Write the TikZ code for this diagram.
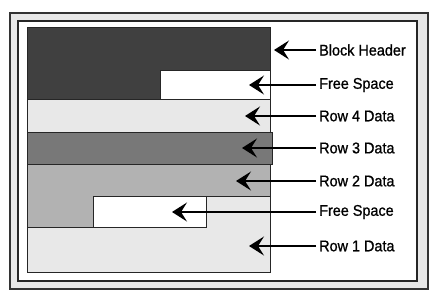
\documentclass[tikz,border=0pt]{standalone}
\usepackage{fontspec}
\setmainfont{Liberation Sans}
\newfontfamily\etfont[FakeBold=0.9,FakeStretch=0.93]{Liberation Sans}
\usetikzlibrary{arrows.meta}
\definecolor{cornice}{gray}{0.91}
\definecolor{testa}{gray}{0.25}
\definecolor{chiaro}{gray}{0.91}
\definecolor{scuro}{gray}{0.47}
\definecolor{medio}{gray}{0.70}
\tikzset{
  zona/.style  = {draw=black!85, line width=0.9pt},
  libero/.style = {zona, fill=white},
  freccia/.style = {line width=1.3pt, -{Stealth[length=15pt,width=19pt,inset=6pt]}},
  et/.style    = {anchor=west, inner sep=3pt, font=\etfont\fontsize{15.5}{17}\selectfont}
}

\begin{document}
\begin{tikzpicture}[x=1pt,y=-1pt]
  \useasboundingbox (0,0) rectangle (435,300);
  % cornice
  \draw[fill=cornice, line width=1.2pt, draw=black!80] (10,13) rectangle (428,289);
  \draw[fill=white, line width=1.5pt, draw=black!85] (18,21) rectangle (417,281);
  % blocco
  \draw[zona, fill=testa] (27,27) rectangle (270,99);
  \draw[libero] (160,70) rectangle (270,99);
  \draw[zona, fill=chiaro] (27,99) rectangle (270,132);
  \draw[zona, fill=scuro] (27,132) rectangle (272,164);
  \draw[zona, fill=medio] (27,164) rectangle (270,227);
  \draw[zona, fill=chiaro] (206,196) -- (270,196) -- (270,272) -- (27,272) -- (27,227) -- (206,227) -- cycle;
  \draw[libero] (93,196) rectangle (206,227);
  % punte
  \coordinate (ph) at (274,50);  \coordinate (pf1) at (249,85);
  \coordinate (p4) at (245,116); \coordinate (p3) at (242,148);
  \coordinate (p2) at (236,181); \coordinate (pf2) at (172,212);
  \coordinate (p1) at (249,246);
  % etichette
  \node[et] (h)  at (316,50)  {Block Header}; \draw[freccia] (h.west)--(ph);
  \node[et] (f1) at (316,85)  {Free Space};   \draw[freccia] (f1.west)--(pf1);
  \node[et] (r4) at (316,116) {Row 4 Data};   \draw[freccia] (r4.west)--(p4);
  \node[et] (r3) at (316,148) {Row 3 Data};   \draw[freccia] (r3.west)--(p3);
  \node[et] (r2) at (316,181) {Row 2 Data};   \draw[freccia] (r2.west)--(p2);
  \node[et] (f2) at (316,212) {Free Space};   \draw[freccia] (f2.west)--(pf2);
  \node[et] (r1) at (316,246) {Row 1 Data};   \draw[freccia] (r1.west)--(p1);
\end{tikzpicture}
\end{document}
